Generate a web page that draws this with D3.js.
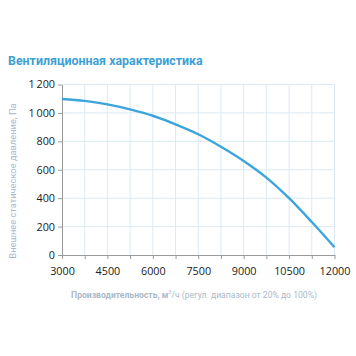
<!DOCTYPE html>
<html><head><meta charset="utf-8">
<script src="https://cdn.jsdelivr.net/npm/d3@7"></script>
<style>body{margin:0;background:#fff}svg{display:block}</style>
</head><body>
<svg id="c" width="356" height="356"></svg>
<script>
const flow = [3000,3750,4500,5250,6000,6750,7500,8250,9000,9750,10500,11250,12000];
const pressure = [1098,1085,1060,1025,980,920,850,762,662,545,400,232,55];
const xTicks = [3000,4500,6000,7500,9000,10500,12000];
const yTicks = [0,200,400,600,800,1000,1200];
const yTickLabels = ["0","200","400","600","800","1\u2009000","1\u2009200"];
const title = "Вентиляционная характеристика";
const yTitle = "Внешнее статическое давление, Па";
const xTitleBold = "Производительность, м";
const xTitleRest = "/ч (регул. диапазон от 20% до 100%)";

const svg = d3.select("#c");
const x = d3.scaleLinear().domain([3000,12000]).range([62,334.5]);
const y = d3.scaleLinear().domain([0,1200]).range([255,84.5]);
const gridX = d3.range(3000,12001,750);

svg.append("text").attr("x",8).attr("y",64.5).attr("font-family","Roboto")
  .attr("font-weight","bold").attr("font-size",12.4).attr("fill","#3d9fd6").text(title);

const grid = svg.append("g");
grid.selectAll("line.v").data(gridX.slice(1)).join("line")
  .attr("x1",d=>x(d)).attr("x2",d=>x(d)).attr("y1",y(1200)).attr("y2",y(0))
  .attr("stroke","#dde9f2").attr("stroke-width",1);
grid.selectAll("line.h").data(yTicks.slice(1)).join("line")
  .attr("x1",x(3000)).attr("x2",x(12000)).attr("y1",d=>y(d)).attr("y2",d=>y(d))
  .attr("stroke","#dde9f2").attr("stroke-width",1);

const xAxis = svg.append("g").attr("transform",`translate(0,${y(0)})`)
  .call(d3.axisBottom(x).tickValues(gridX).tickSize(4).tickSizeOuter(0).tickFormat(d=>xTicks.includes(d)?String(d):""));
xAxis.select(".domain").attr("stroke","#9a9a9a");
xAxis.selectAll(".tick line").attr("stroke","#9a9a9a");
xAxis.selectAll(".tick text").attr("font-family","Open Sans").attr("font-size",10.8).attr("fill","#222").attr("y",12.5).attr("dy","0.71em");

const yAxis = svg.append("g").attr("transform",`translate(${x(3000)},0)`)
  .call(d3.axisLeft(y).tickValues(yTicks).tickSize(4).tickSizeOuter(0).tickFormat((d,i)=>yTickLabels[i]));
yAxis.select(".domain").attr("stroke","#9a9a9a");
yAxis.selectAll(".tick line").attr("stroke","#9a9a9a");
yAxis.selectAll(".tick text").attr("font-family","Open Sans").attr("font-size",10.8).attr("fill","#222").attr("x",-7);

svg.append("text").attr("transform","translate(16,181) rotate(-90)").attr("text-anchor","middle")
  .attr("font-family","Roboto").attr("font-size",9.3).attr("fill","#a9bac9").text(yTitle);

const xt = svg.append("text").attr("x",194).attr("y",298).attr("text-anchor","middle")
  .attr("font-family","Roboto").attr("font-size",8.6).attr("fill","#a9bac9");
xt.append("tspan").attr("font-weight","bold").text(xTitleBold);
xt.append("tspan").attr("font-size",5.5).attr("dy",-4).text("3");
xt.append("tspan").attr("dy",4).text(xTitleRest);

const line = d3.line().x((d,i)=>x(flow[i])).y(d=>y(d)).curve(d3.curveMonotoneX);
svg.append("path").datum(pressure).attr("d",line).attr("fill","none")
  .attr("stroke","#3ba5dc").attr("stroke-width",2.4);
</script>
</body></html>
